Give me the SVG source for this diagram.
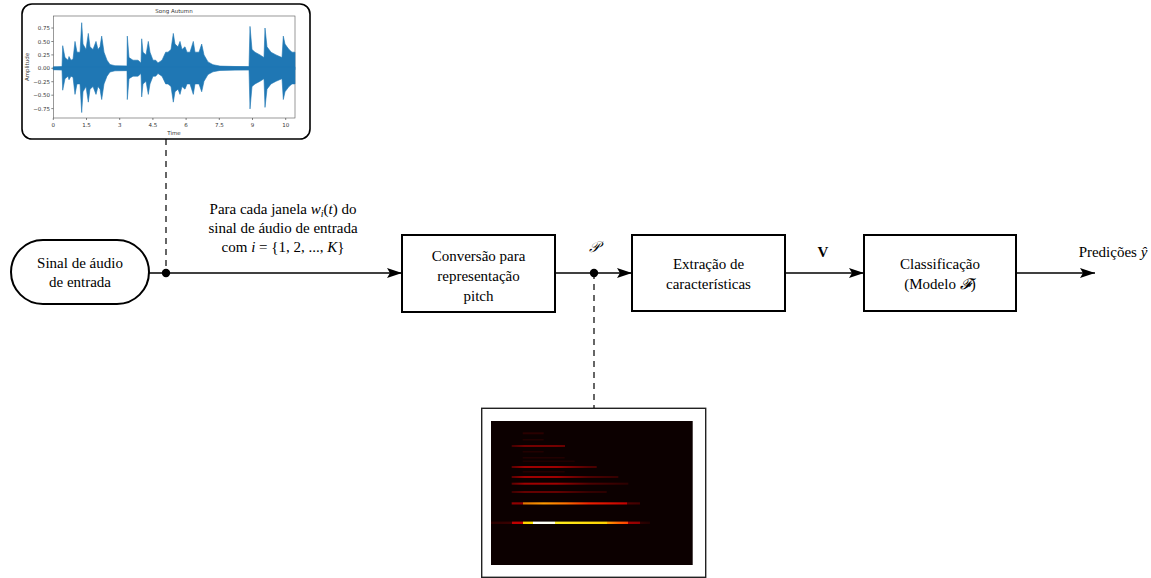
<svg xmlns="http://www.w3.org/2000/svg" width="1151" height="578" viewBox="0 0 1151 578">
<style>
.node{fill:#fff;stroke:#000;stroke-width:2}
.t{font-family:"Liberation Serif","Times New Roman",serif;font-size:15px;fill:#000;text-anchor:middle}
.m{font-style:italic}
.conn{stroke:#000;stroke-width:1.6;fill:none}
.dash{stroke:#000;stroke-width:1.2;fill:none;stroke-dasharray:6,5}
.ax{font-family:"DejaVu Sans",sans-serif;font-size:5.5px;fill:#333}
.tick{stroke:#333;stroke-width:0.6}
</style>
<defs>
<marker id="arr" markerWidth="16" markerHeight="12" refX="15" refY="6" orient="auto" markerUnits="userSpaceOnUse">
<path d="M0,1 L15,6 L0,11 L3,6 Z" fill="#000"/>
</marker>
<path id="env" d="M53.3,1.5 L53.3,-1.1 L62,-1.6 L62.7,-22.6 L65,-10.7 L68,-8.1 L69,-11.8 L71,-8.1 L73,-9.1 L75,-26.9 L77,-16.1 L80,-16.1 L81.7,-45.6 L83,-24.2 L86,-18.8 L88.3,-34.9 L90,-21.5 L93,-18.8 L96,-26.9 L98,-18.8 L100,-21.5 L101.7,-32.2 L104,-16.1 L107,-8.1 L110,-3.8 L115,-2.6 L127,-2.4 L127.3,-32.2 L129,-10.7 L133,-8.1 L138,-8.1 L141,-5.4 L141.7,-29.5 L143,-16.1 L146,-13.4 L148.3,-26.9 L150,-16.1 L153,-8.1 L155.7,-8.1 L158,-5.4 L162,-8.1 L165.7,-16.1 L168,-16.1 L171,-18.8 L173.3,-34.9 L175,-24.2 L178,-21.5 L180,-26.9 L182,-18.8 L185,-21.5 L187,-16.1 L190,-16.1 L193.3,-26.9 L195,-16.1 L199,-16.1 L201.7,-24.2 L204,-13.4 L208,-6.4 L213,-3.6 L220,-2.2 L235,-1.8 L249,-1.6 L250,-41.9 L252,-18.8 L255,-16.1 L260,-13.4 L264,-10.7 L265,-40.3 L267,-21.5 L271,-16.1 L276,-13.4 L282,-10.7 L283.3,-32.2 L285,-24.2 L289,-18.8 L292,-16.1 L295,-16.1 L295,1.5 Z"/>
<linearGradient id="g1" x1="491" x2="650" gradientUnits="userSpaceOnUse">
<stop offset="0" stop-color="#2a0000"/>
<stop offset="0.13" stop-color="#3a0000"/>
<stop offset="0.13" stop-color="#c00000"/>
<stop offset="0.2" stop-color="#c00000"/>
<stop offset="0.2" stop-color="#ffcc00"/>
<stop offset="0.267" stop-color="#ffe600"/>
<stop offset="0.267" stop-color="#ffffff"/>
<stop offset="0.4" stop-color="#ffffee"/>
<stop offset="0.4" stop-color="#ffee22"/>
<stop offset="0.73" stop-color="#ffd000"/>
<stop offset="0.73" stop-color="#ffa000"/>
<stop offset="0.8" stop-color="#ff6000"/>
<stop offset="0.86" stop-color="#ff4000"/>
<stop offset="0.86" stop-color="#a00000"/>
<stop offset="0.937" stop-color="#900000"/>
<stop offset="0.937" stop-color="#300000"/>
<stop offset="1" stop-color="#200000"/>
</linearGradient>
<linearGradient id="g2" x1="511.7" x2="640" gradientUnits="userSpaceOnUse">
<stop offset="0" stop-color="#900000"/>
<stop offset="0.086" stop-color="#900000"/>
<stop offset="0.086" stop-color="#e07000"/>
<stop offset="0.25" stop-color="#ff9a00"/>
<stop offset="0.42" stop-color="#ff7000"/>
<stop offset="0.6" stop-color="#f02000"/>
<stop offset="0.9" stop-color="#c00000"/>
<stop offset="0.9" stop-color="#500000"/>
<stop offset="1" stop-color="#400000"/>
</linearGradient>
<linearGradient id="g3" x1="511.7" x2="640" gradientUnits="userSpaceOnUse">
<stop offset="0" stop-color="#5a0000"/>
<stop offset="0.1" stop-color="#a00000"/>
<stop offset="0.35" stop-color="#a00000"/>
<stop offset="0.6" stop-color="#500000"/>
<stop offset="1" stop-color="#200000"/>
</linearGradient>
</defs>

<!-- waveform image -->
<g id="waveform">
<rect x="22" y="4" width="288" height="135" rx="10" fill="#fff" stroke="#000" stroke-width="1.6"/>
<rect x="53.3" y="16" width="241.7" height="102" fill="#fff" stroke="#555" stroke-width="0.6"/>
<g fill="#1f77b4" stroke="#1f77b4" stroke-width="0.6" stroke-linejoin="round">
<use href="#env" transform="translate(0,68.3)"/>
<use href="#env" transform="translate(0,68.3) scale(1,-0.97)"/>
</g>
<text x="174" y="13" class="ax" text-anchor="middle" font-size="6.5">Song Autumn</text>
<g class="tick">
<line x1="51.3" y1="28" x2="53.3" y2="28"/><line x1="51.3" y1="41.5" x2="53.3" y2="41.5"/><line x1="51.3" y1="54.9" x2="53.3" y2="54.9"/><line x1="51.3" y1="68.3" x2="53.3" y2="68.3"/><line x1="51.3" y1="81.7" x2="53.3" y2="81.7"/><line x1="51.3" y1="95.2" x2="53.3" y2="95.2"/><line x1="51.3" y1="108.6" x2="53.3" y2="108.6"/>
<line x1="53.3" y1="118" x2="53.3" y2="120"/><line x1="86.5" y1="118" x2="86.5" y2="120"/><line x1="119.7" y1="118" x2="119.7" y2="120"/><line x1="152.9" y1="118" x2="152.9" y2="120"/><line x1="186.1" y1="118" x2="186.1" y2="120"/><line x1="219.3" y1="118" x2="219.3" y2="120"/><line x1="252.5" y1="118" x2="252.5" y2="120"/><line x1="285.7" y1="118" x2="285.7" y2="120"/>
</g>
<g class="ax" text-anchor="end">
<text x="50" y="30">0.75</text><text x="50" y="43.5">0.50</text><text x="50" y="56.9">0.25</text><text x="50" y="70.3">0.00</text><text x="50" y="83.7">−0.25</text><text x="50" y="97.2">−0.50</text><text x="50" y="110.6">−0.75</text>
</g>
<g class="ax" text-anchor="middle">
<text x="53.3" y="127">0</text><text x="86.5" y="127">1.5</text><text x="119.7" y="127">3</text><text x="152.9" y="127">4.5</text><text x="186.1" y="127">6</text><text x="219.3" y="127">7.5</text><text x="252.5" y="127">9</text><text x="285.7" y="127">10</text>
<text x="174" y="135">Time</text>
<text transform="translate(29,67) rotate(-90)">Amplitude</text>
</g>
</g>

<!-- spectrogram image -->
<g id="pitchgram">
<rect x="481.7" y="408.3" width="224" height="169" fill="#fff" stroke="#222" stroke-width="1.4"/>
<rect x="491" y="421" width="201.7" height="144" fill="#0c0000"/>
<rect x="522.7" y="432.3" width="21" height="2" fill="#2a0000"/>
<rect x="522.7" y="439" width="21" height="1.5" fill="#220000"/>
<rect x="511.7" y="445" width="53.3" height="2" fill="url(#g3)" opacity="0.7"/>
<rect x="522.7" y="451" width="21" height="1.5" fill="#220000"/>
<rect x="522.7" y="457" width="42" height="1.5" fill="#220000"/>
<rect x="522.7" y="460.5" width="52" height="1.5" fill="#1e0000"/>
<rect x="511.7" y="466" width="85" height="2" fill="url(#g3)"/>
<rect x="522.7" y="471" width="42" height="1.5" fill="#220000"/>
<rect x="511.7" y="476" width="106.6" height="2" fill="url(#g3)"/>
<rect x="511.7" y="482.7" width="116.6" height="2" fill="url(#g3)"/>
<rect x="511.7" y="491" width="95" height="2" fill="url(#g3)" opacity="0.6"/>
<rect x="511.7" y="502.3" width="128.3" height="2.2" fill="url(#g2)"/>
<rect x="491" y="521.6" width="159" height="2.4" fill="url(#g1)"/>
</g>

<!-- connectors -->
<g id="connectors">
<line class="dash" x1="166" y1="139" x2="166" y2="273"/>
<line class="dash" x1="594" y1="273" x2="594" y2="408"/>
<line class="conn" x1="149" y1="273" x2="402" y2="273" marker-end="url(#arr)"/>
<line class="conn" x1="555" y1="273" x2="632" y2="273" marker-end="url(#arr)"/>
<line class="conn" x1="785" y1="273" x2="864" y2="273" marker-end="url(#arr)"/>
<line class="conn" x1="1016" y1="273" x2="1095" y2="273" marker-end="url(#arr)"/>
<circle cx="166" cy="273" r="4.2" fill="#000"/>
<circle cx="594" cy="273" r="4.2" fill="#000"/>
</g>

<!-- labels on connectors -->
<g id="labels">
<text class="t" x="283" y="214">Para cada janela <tspan class="m">w</tspan><tspan class="m" font-size="10" dy="3">i</tspan><tspan dy="-3">(</tspan><tspan class="m">t</tspan>) do</text>
<text class="t" x="283" y="233">sinal de áudio de entrada</text>
<text class="t" x="283" y="252">com <tspan class="m">i</tspan> = {1, 2, ..., <tspan class="m">K</tspan>}</text>
<text class="t" x="594" y="252" font-size="16"><tspan class="m">𝒫</tspan></text>
<text class="t" x="823" y="257" font-weight="bold">V</text>
<text class="t" x="1113" y="257">Predições <tspan class="m">ŷ</tspan></text>
</g>

<g id="sinal">
<rect class="node" x="11" y="240" width="138" height="64" rx="32"/>
<text class="t" x="80" y="268">Sinal de áudio</text>
<text class="t" x="80" y="287">de entrada</text>
</g>
<g id="conversao">
<rect class="node" x="402" y="235" width="153" height="77"/>
<text class="t" x="478.5" y="261">Conversão para</text>
<text class="t" x="478.5" y="281">representação</text>
<text class="t" x="478.5" y="301">pitch</text>
</g>
<g id="extracao">
<rect class="node" x="632" y="235" width="153" height="76"/>
<text class="t" x="708.5" y="269">Extração de</text>
<text class="t" x="708.5" y="289">características</text>
</g>
<g id="classificacao">
<rect class="node" x="864" y="235" width="152" height="76"/>
<text class="t" x="940" y="269">Classificação</text>
<text class="t" x="940" y="289">(Modelo <tspan class="m">𝓕</tspan>)</text>
</g>
</svg>
